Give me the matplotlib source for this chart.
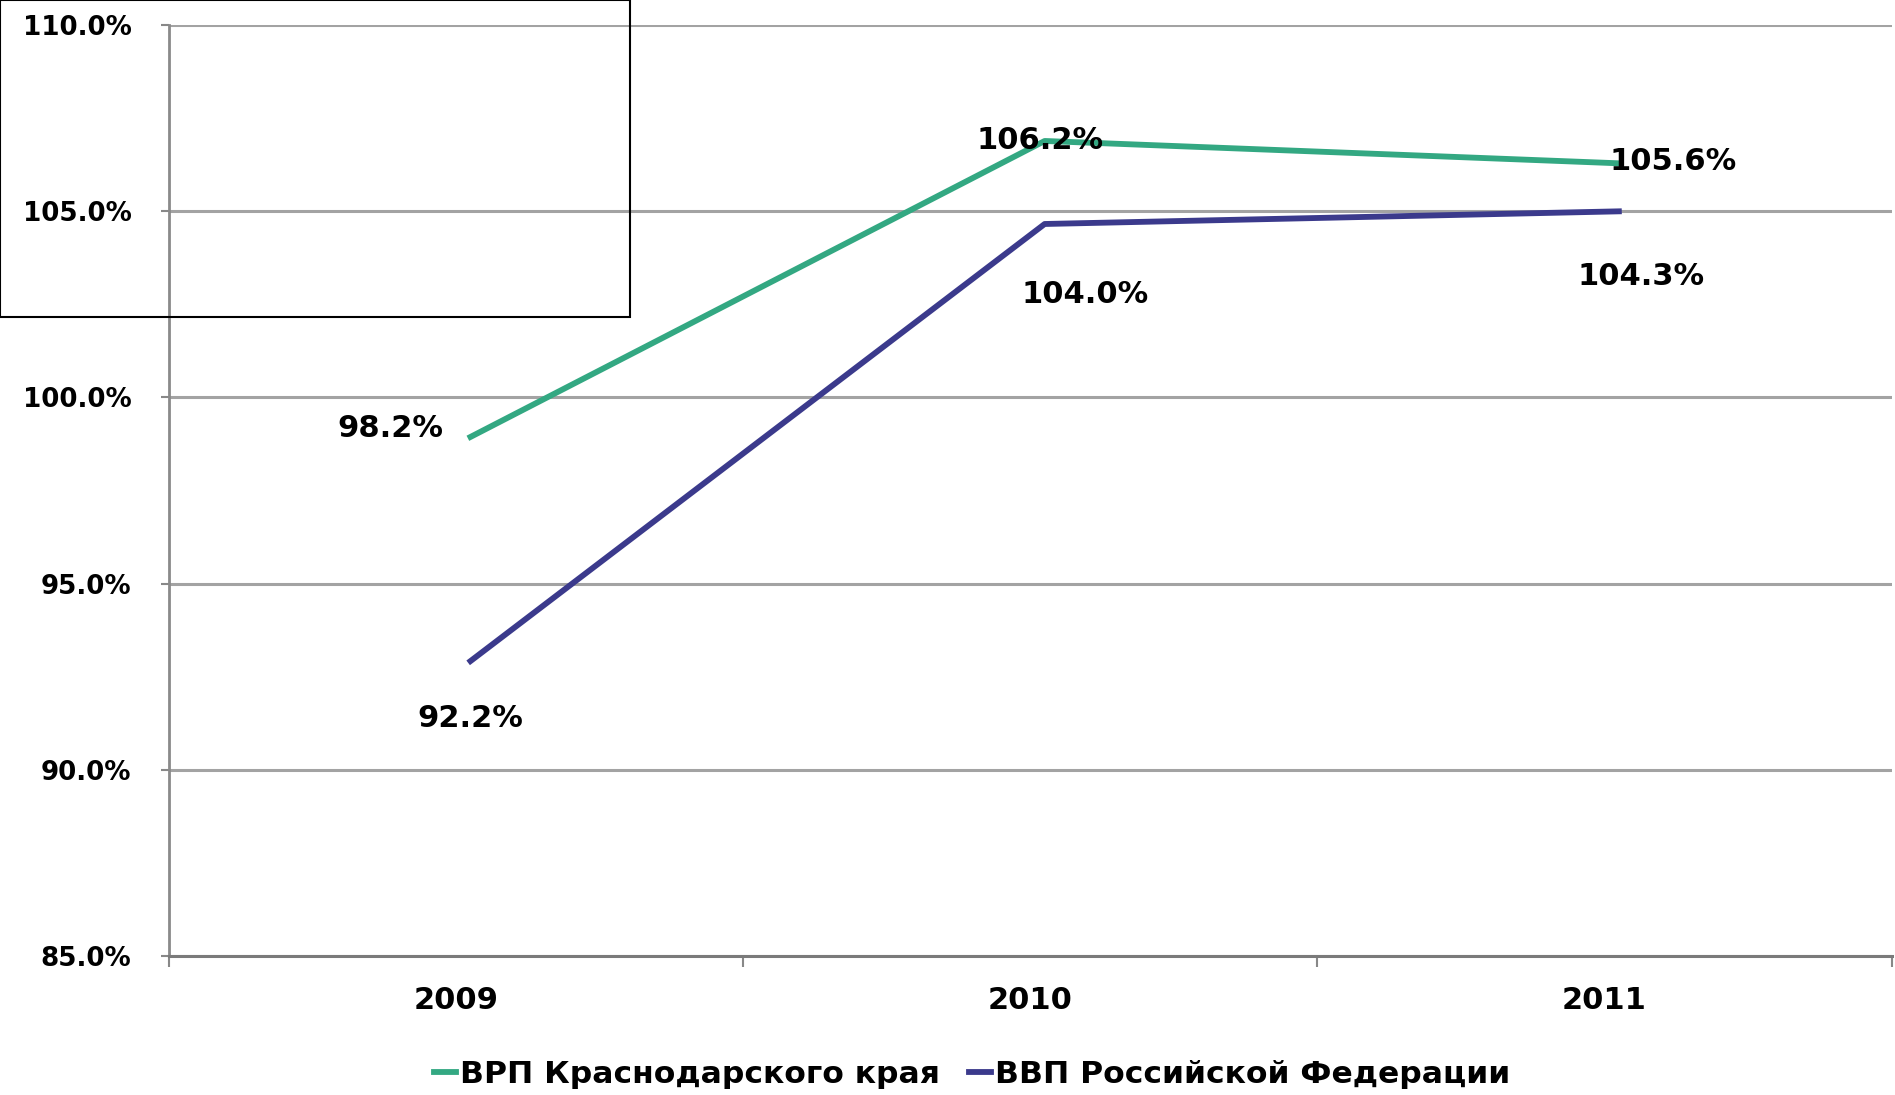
import matplotlib.pyplot as plt
from matplotlib.patches import Rectangle
from matplotlib.ticker import FixedLocator, FuncFormatter

years = ["2009", "2010", "2011"]
# positions of the lines as drawn on the chart
vrp_krasnodar = [98.94, 106.89, 106.29]
vvp_russia = [92.92, 104.66, 105.0]
# data labels as printed
vrp_labels = ["98.2%", "106.2%", "105.6%"]
vvp_labels = ["92.2%", "104.0%", "104.3%"]
series_names = ["ВРП Краснодарского края", "ВВП Российской Федерации"]

font = dict(family=["DejaVu Sans"], weight="bold", size=22)

fig = plt.figure(figsize=(18.95, 10.95), dpi=100)
ax = fig.add_axes([0.0892, 0.127, 0.909, 0.850])

x = [i + 0.025 for i in range(len(years))]
green = "#33a882"
blue = "#3b3a8c"
ax.plot(x, vrp_krasnodar, color=green, lw=4.2, label=series_names[0], zorder=3)
ax.plot(x, vvp_russia, color=blue, lw=4.2, label=series_names[1], zorder=3)

for xi, yi, txt, off in zip(x, vrp_krasnodar, vrp_labels, [(-80, 8), (-5, 0), (54, 2)]):
    ax.annotate(txt, (xi, yi), xytext=off, textcoords="offset pixels",
                ha="center", va="center", zorder=4, **font)
for xi, yi, txt, off in zip(x, vvp_russia, vvp_labels, [(0, -57), (40, -71), (22, -65)]):
    ax.annotate(txt, (xi, yi), xytext=off, textcoords="offset pixels",
                ha="center", va="center", zorder=4, **font)

ax.set_xlim(-0.5, 2.5)
ax.set_ylim(85, 110)
ax.yaxis.set_major_locator(FixedLocator([85, 90, 95, 100, 105, 110]))
ax.yaxis.set_major_formatter(FuncFormatter(lambda v, p: f"{v:.1f}%"))
ax.grid(axis="y", color="#a3a3a3", lw=2.2, zorder=1)

ax.set_xticks([-0.5, 0.5, 1.5, 2.5])
ax.set_xticklabels([])
ax.set_xticks([0, 1, 2], minor=True)
ax.set_xticklabels(years, minor=True, **font)
ax.tick_params(axis="x", which="minor", length=0, pad=22)
ax.tick_params(axis="x", which="major", length=8, width=1.5, color="#888888")
ax.tick_params(axis="y", length=6, width=1.5, color="#888888", pad=21)
for lab in ax.get_yticklabels():
    lab.set_fontfamily(font["family"])
    lab.set_fontweight("bold")
    lab.set_fontsize(18.8)

for s in ["top", "right"]:
    ax.spines[s].set_visible(False)
ax.spines["left"].set_color("#8a8a8a")
ax.spines["left"].set_linewidth(2)
ax.spines["bottom"].set_color("#7a7a7a")
ax.spines["bottom"].set_linewidth(2.2)

leg = fig.legend(loc="center", bbox_to_anchor=(0.513, 0.019), ncol=2, frameon=False,
                 handlelength=0.7, handletextpad=0.15, columnspacing=0.9,
                 prop=dict(family=font["family"], weight="bold", size=22.6))

fig.patches.append(Rectangle((0, 1 - 317 / 1095), 630 / 1895, 317 / 1095,
                             transform=fig.transFigure, fill=False,
                             edgecolor="black", lw=1.5, zorder=10))

fig.savefig("out.png", dpi=100)
